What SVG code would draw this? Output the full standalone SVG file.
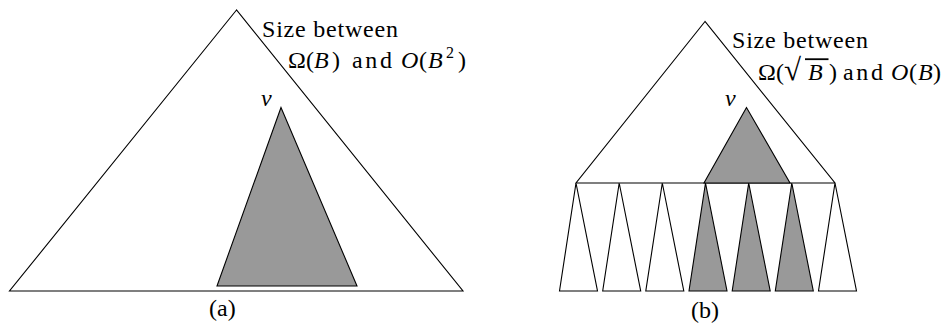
<svg xmlns="http://www.w3.org/2000/svg" width="950" height="327" viewBox="0 0 950 327">
<style>
.ln{fill:#fff;stroke:#000;stroke-width:1.1;stroke-linejoin:miter}
.sh{fill:#999;stroke:#000;stroke-width:1.1}
.t{font-family:'Liberation Serif','Times New Roman',serif;font-size:24px;fill:#000}
.i{font-style:italic}
</style>
<rect width="950" height="327" fill="#fff"/>
<g id="tree-a">
  <polygon class="ln" points="236.5,10 9.5,291 463,291"/>
  <polygon class="sh" points="281,107.5 217,286 357,286"/>
  <text class="t i" x="261" y="106">v</text>
  <text class="t" x="262" y="37" textLength="136" lengthAdjust="spacing">Size between</text>
  <text class="t" y="68"><tspan x="288">Ω</tspan><tspan x="306">(</tspan><tspan class="i" x="314">B</tspan><tspan x="332">)</tspan><tspan x="352" textLength="40" lengthAdjust="spacing">and</tspan><tspan class="i" x="401">O</tspan><tspan x="419">(</tspan><tspan class="i" x="428">B</tspan><tspan font-size="16" x="446" y="58">2</tspan><tspan x="458" y="68">)</tspan></text>
  <text class="t" x="209" y="316">(a)</text>
</g>
<g id="tree-b">
  <polygon class="ln" points="705,21.5 576,183 835,183"/>
  <polygon class="sh" points="746.5,107.5 704,183 790,183"/>
  <text class="t i" x="725" y="106">v</text>
  <text class="t" x="732" y="48" textLength="136" lengthAdjust="spacing">Size between</text>
  <text class="t" y="80"><tspan x="758">Ω</tspan><tspan x="776">(</tspan><tspan x="784" font-size="31">√</tspan><tspan class="i" x="808">B</tspan><tspan x="829">)</tspan><tspan x="843" textLength="40" lengthAdjust="spacing">and</tspan><tspan class="i" x="891">O</tspan><tspan x="909">(</tspan><tspan class="i" x="918">B</tspan><tspan x="933">)</tspan></text>
  <rect x="805" y="58.3" width="23.5" height="1.8" fill="#000"/>
  <text class="t" x="691" y="318">(b)</text>
</g>
<g id="leaves">
  <polygon class="ln" points="576,183 559.5,291 597.5,291"/>
  <polygon class="ln" points="619.2,183 602.7,291 640.7,291"/>
  <polygon class="ln" points="662.3,183 645.8,291 683.8,291"/>
  <polygon class="sh" points="705.5,183 689,291 727,291"/>
  <polygon class="sh" points="748.7,183 732.2,291 770.2,291"/>
  <polygon class="sh" points="791.8,183 775.3,291 813.3,291"/>
  <polygon class="ln" points="835,183 818.5,291 856.5,291"/>
</g>
</svg>
